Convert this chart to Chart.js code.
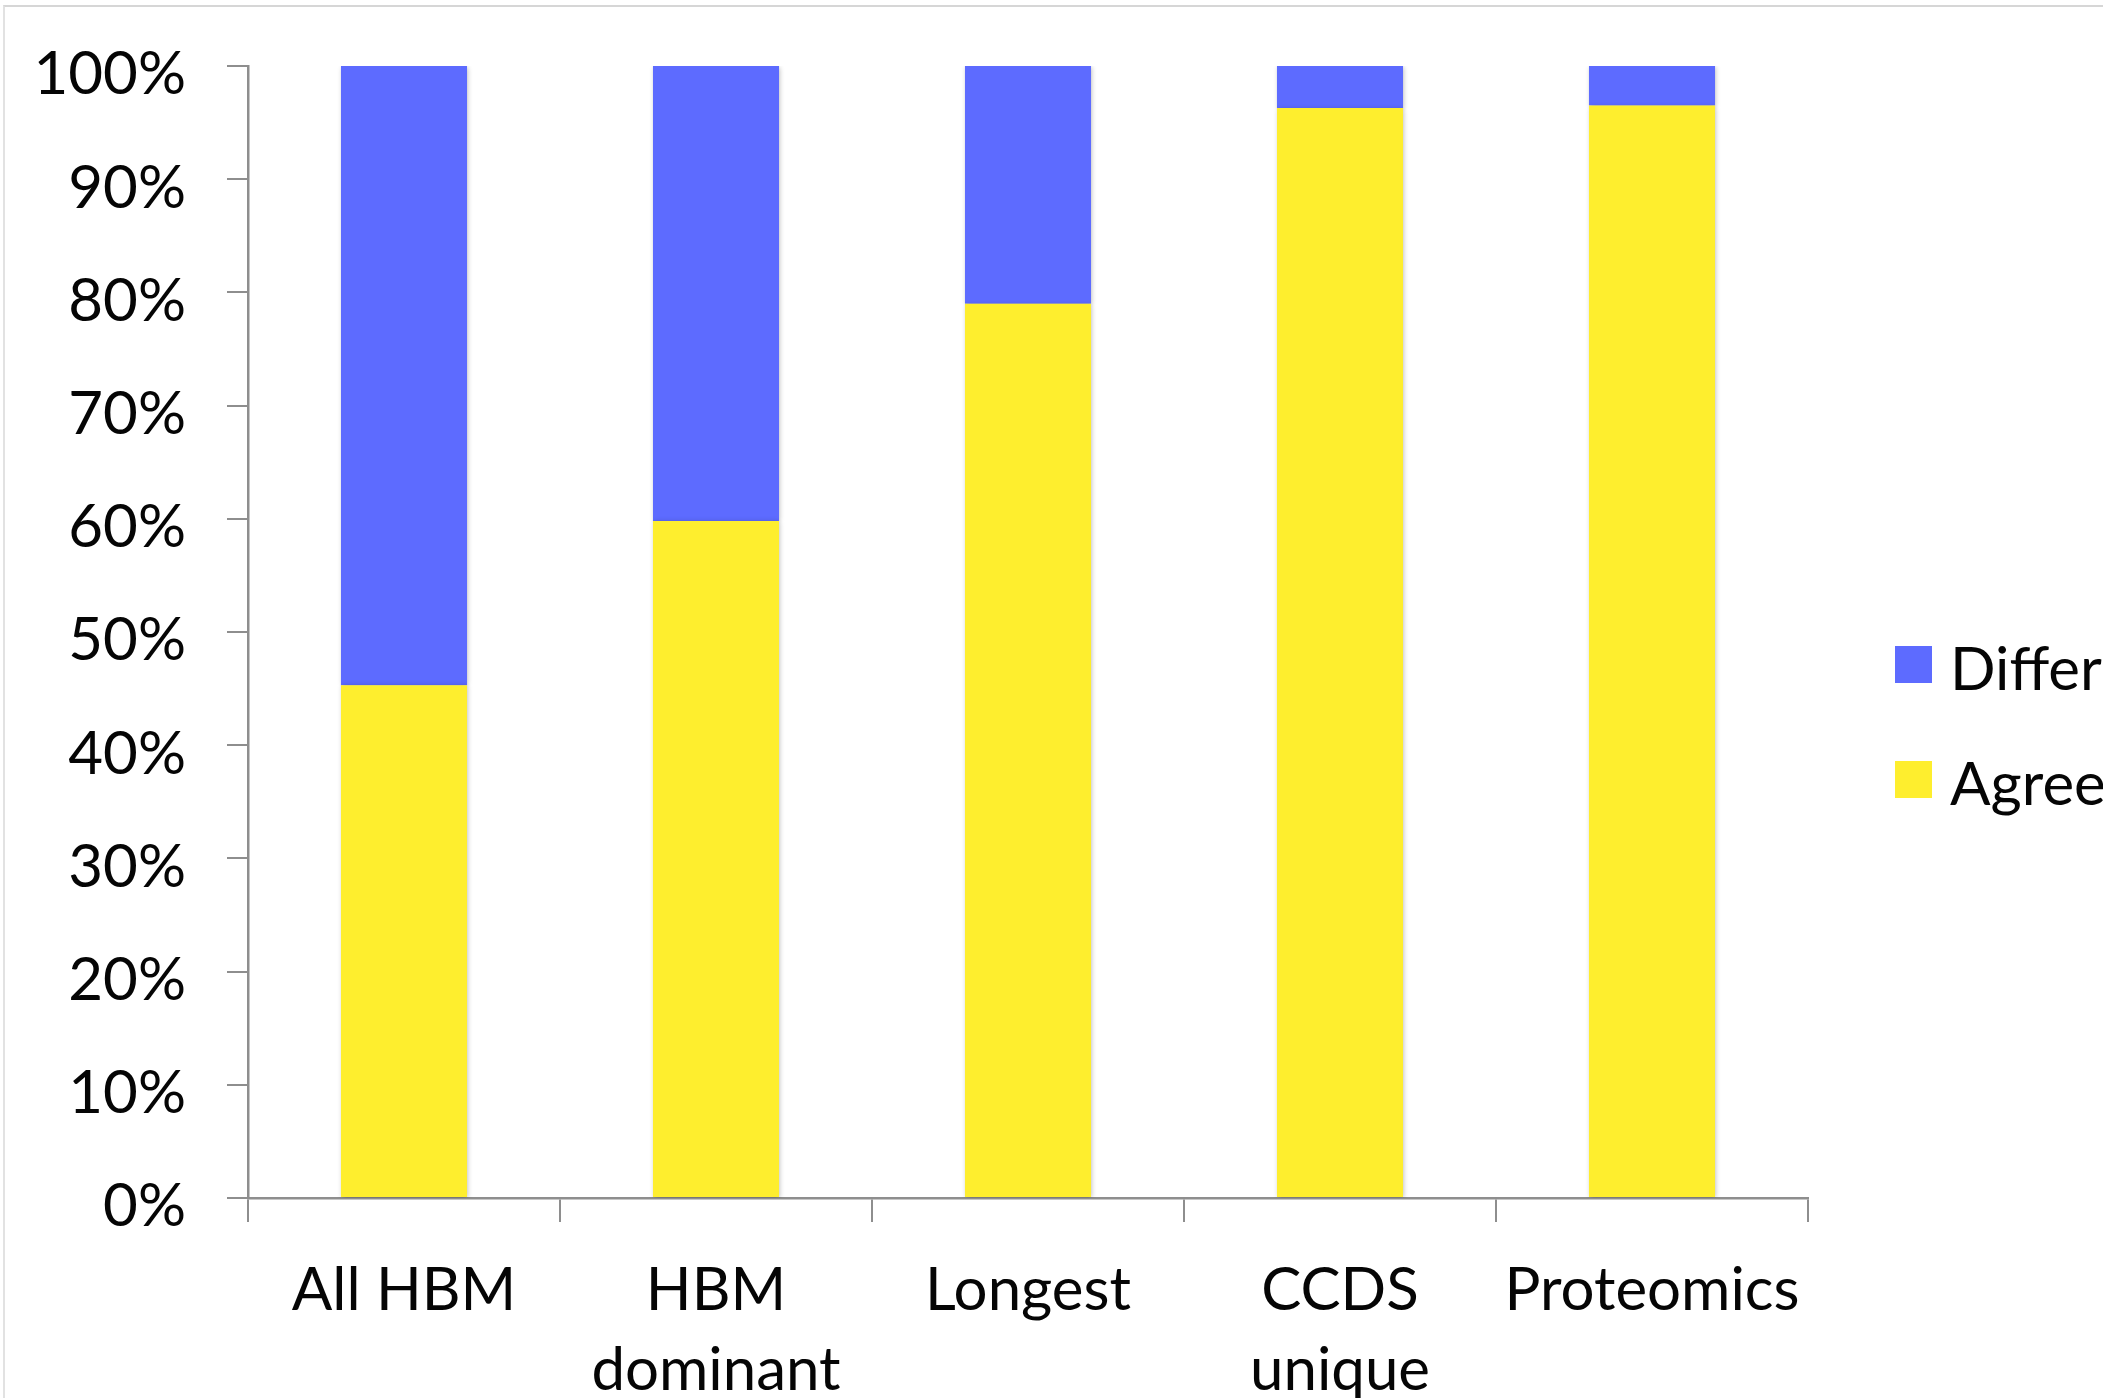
<!DOCTYPE html>
<html lang="en">

<head>
    <meta charset="UTF-8">
    <meta name="viewport" content="width=device-width, initial-scale=1.0">
    <script src="https://cdn.jsdelivr.net/npm/chart.js"></script>
    <title>Agree / Differ</title>
    <style>
        html, body {
            margin: 0;
            padding: 0;
            background: #ffffff;
            overflow: hidden;
        }

        #moldura {
            position: absolute;
            left: 3px;
            top: 5px;
            width: 2100px;
            height: 1393px;
            border-top: 2px solid #d6d6d6;
            border-left: 2px solid #e2e2e2;
        }

        #caixa {
            position: absolute;
            left: 0;
            top: 0;
            width: 2103px;
            height: 1398px;
        }
    </style>
</head>

<body>
    <div id="moldura"></div>
    <div id="caixa">
        <canvas id="myChartCanvas" width="2103" height="1398"></canvas>
    </div>
</body>

</html>

<script>
    // dados (porcentagem de cada grupo)
    const categorias = ['All HBM', ['HBM', 'dominant'], 'Longest', ['CCDS', 'unique'], 'Proteomics'];
    const agree = [45.3, 59.8, 79.0, 96.3, 96.5];
    const differ = [54.7, 40.2, 21.0, 3.7, 3.5];
    const ticksY = [0, 10, 20, 30, 40, 50, 60, 70, 80, 90, 100];

    const corAzul = '#5d6bff';
    const corAmarela = '#feee2e';
    const corEixo = '#8e8e8e';
    const fonte = 'Lato, "Open Sans", sans-serif';

    // sombra leve atras das barras, como no original
    const sombraBarras = {
        id: 'sombraBarras',
        beforeDatasetsDraw(chart) {
            const ctx = chart.ctx;
            ctx.save();
            ctx.shadowColor = 'rgba(0, 0, 0, 0.28)';
            ctx.shadowBlur = 5;
            ctx.shadowOffsetX = 1;
            ctx.shadowOffsetY = 1;
        },
        afterDatasetsDraw(chart) {
            chart.ctx.restore();
        }
    };

    // legenda desenhada a direita, a partir dos datasets
    const legendaDireita = {
        id: 'legendaDireita',
        afterDraw(chart) {
            const ctx = chart.ctx;
            const area = chart.chartArea;
            const itens = chart.data.datasets.slice().reverse();
            const xCaixa = area.right + 87;
            let yCaixa = area.top + 580;

            ctx.save();
            ctx.font = '60px ' + fonte;
            ctx.textBaseline = 'alphabetic';
            ctx.textAlign = 'left';
            for (let i = 0; i < itens.length; i++) {
                ctx.fillStyle = itens[i].backgroundColor;
                ctx.fillRect(xCaixa, yCaixa, 37, 37);
                ctx.fillStyle = '#050505';
                ctx.fillText(itens[i].label, xCaixa + 55, yCaixa + 44);
                yCaixa += 115;
            }
            ctx.restore();
        }
    };

    let dados = {
        labels: categorias,
        datasets: [{
            label: 'Agree',
            data: agree,
            backgroundColor: corAmarela,
            borderWidth: 0
        }, {
            label: 'Differ',
            data: differ,
            backgroundColor: corAzul,
            borderWidth: 0
        }]
    };

    const config = {
        type: 'bar',
        data: dados,
        plugins: [sombraBarras, legendaDireita],
        options: {
            responsive: false,
            animation: false,
            layout: {
                padding: { left: 0, right: 295, top: 66, bottom: 0 }
            },
            datasets: {
                bar: {
                    categoryPercentage: 1.0,
                    barPercentage: 0.404
                }
            },
            plugins: {
                legend: { display: false },
                tooltip: { enabled: false }
            },
            scales: {
                x: {
                    stacked: true,
                    afterFit: function (scale) { scale.height = 1398 - 1198; },
                    grid: {
                        offset: true,
                        drawOnChartArea: false,
                        drawTicks: true,
                        tickLength: 24,
                        color: corEixo,
                        lineWidth: 2
                    },
                    border: { display: true, color: corEixo, width: 2.5 },
                    ticks: {
                        color: '#050505',
                        padding: 29,
                        maxRotation: 0,
                        autoSkip: false,
                        font: { family: fonte, size: 60, lineHeight: 1.33 }
                    }
                },
                y: {
                    stacked: true,
                    min: 0,
                    max: 100,
                    afterFit: function (scale) {
                        scale.width = 248;
                        // o rotulo de 100% pode passar do topo, sem empurrar a area
                        scale.paddingTop = 0;
                        scale.paddingBottom = 0;
                    },
                    afterBuildTicks: function (scale) {
                        scale.ticks = ticksY.map(function (v) { return { value: v }; });
                    },
                    grid: {
                        drawOnChartArea: false,
                        drawTicks: true,
                        tickLength: 21,
                        color: corEixo,
                        lineWidth: 2
                    },
                    border: { display: true, color: corEixo, width: 2.5 },
                    ticks: {
                        color: '#050505',
                        padding: 41,
                        labelOffset: 9,
                        font: { family: fonte, size: 60 },
                        callback: function (v) { return v + '%'; }
                    }
                }
            }
        }
    };

    let myChart = new Chart(
        document.getElementById('myChartCanvas'),
        config
    );
</script>
